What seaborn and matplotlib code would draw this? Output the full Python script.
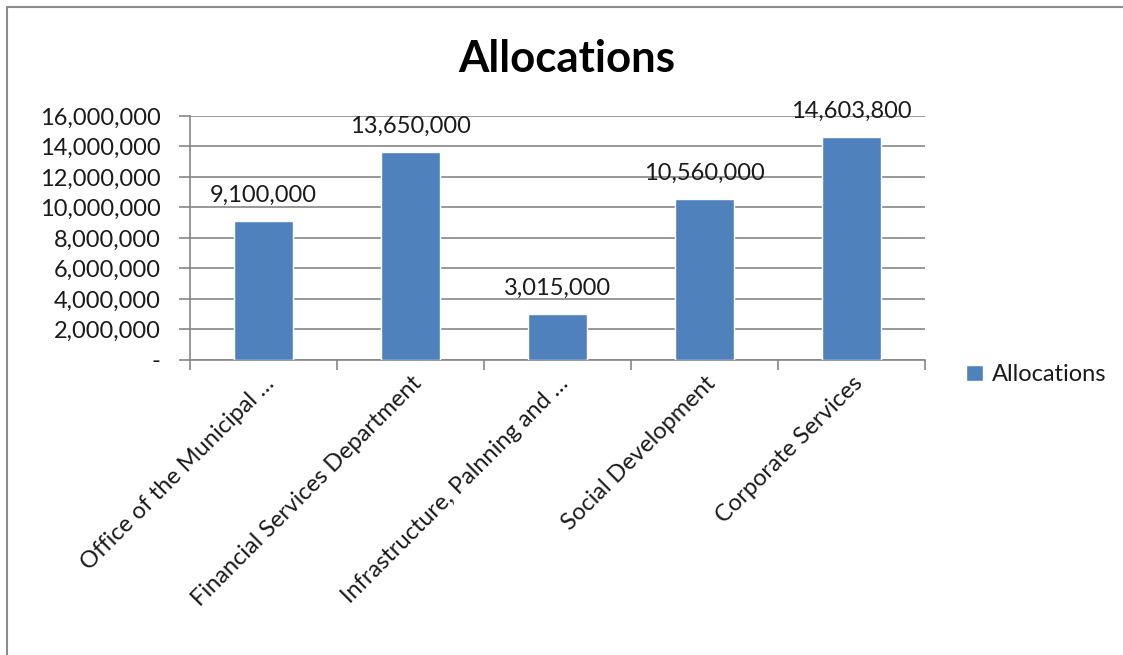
import matplotlib
matplotlib.use("Agg")
import matplotlib.pyplot as plt
import seaborn as sns
import pandas as pd
from matplotlib.lines import Line2D

# Budget allocations per department
departments = [
    "Office of the Municipal …",
    "Financial Services Department",
    "Infrastructure, Palnning and …",
    "Social Development",
    "Corporate Services",
]
allocations = [9100000, 13650000, 3015000, 10560000, 14603800]
y_ticks = [0, 2000000, 4000000, 6000000, 8000000, 10000000, 12000000, 14000000, 16000000]

sns.set_theme(style="white")
plt.rcParams["font.family"] = ["Lato", "DejaVu Sans"]

bar_color = "#4F81BD"
grid_color = "#868686"
text_color = "#1a1a1a"
fs = 17

df = pd.DataFrame({"Department": departments, "Allocations": allocations})

fig = plt.figure(figsize=(11.23, 6.55), dpi=100)
ax = fig.add_axes([0.1692, 0.4504, 0.6545, 0.3725])

sns.barplot(data=df, x="Department", y="Allocations", color=bar_color,
            width=0.4, saturation=1, ax=ax, zorder=3)

ax.set_xlim(-0.5, len(departments) - 0.5)
ax.set_ylim(0, 16000000)
ax.set_yticks(y_ticks)
ax.set_yticklabels(["-" if v == 0 else f"{v:,}" for v in y_ticks],
                   fontsize=fs, color=text_color)
ax.yaxis.grid(True, color=grid_color, linewidth=1.2, zorder=0)
ax.xaxis.grid(False)
ax.set_xlabel("")
ax.set_ylabel("")

# category labels at bar centres, tick marks between categories
ax.set_xticks(range(len(departments)))
ax.set_xticklabels(departments, rotation=45, ha="right", rotation_mode="anchor",
                   fontsize=fs, color=text_color)
ax.set_xticks([i - 0.5 for i in range(len(departments) + 1)], minor=True)
ax.tick_params(axis="x", which="major", length=0, pad=9)
ax.tick_params(axis="x", which="minor", length=7, width=1.2, color=grid_color,
               direction="out", bottom=True)
ax.tick_params(axis="y", length=8, width=1.2, color=grid_color, direction="out",
               left=True, pad=13)

for side in ("top", "right"):
    ax.spines[side].set_visible(False)
for side in ("left", "bottom"):
    ax.spines[side].set_color(grid_color)
    ax.spines[side].set_linewidth(1.2)

ax.bar_label(ax.containers[0], labels=[f"{v:,}" for v in allocations],
             padding=11, fontsize=fs, color=text_color)

fig.text(0.505, 0.890, "Allocations", ha="center", va="baseline",
         fontsize=31.5, fontweight="bold", color="black")

fig.legend(handles=[ax.containers[0].patches[0]], labels=["Allocations"],
           loc="center left", bbox_to_anchor=(0.8415, 0.428), frameon=False,
           fontsize=fs, handlelength=0.7, handleheight=0.7, handletextpad=0.4,
           labelcolor=text_color)

# chart-area frame along the top and left edges
fig.add_artist(Line2D([0.0065, 0.0065], [0.0, 0.9895], transform=fig.transFigure,
                      color="#8c8c8c", linewidth=1.5))
fig.add_artist(Line2D([0.0065, 1.0], [0.9895, 0.9895], transform=fig.transFigure,
                      color="#8c8c8c", linewidth=1.5))

fig.savefig("out.png", dpi=100, facecolor="white")
